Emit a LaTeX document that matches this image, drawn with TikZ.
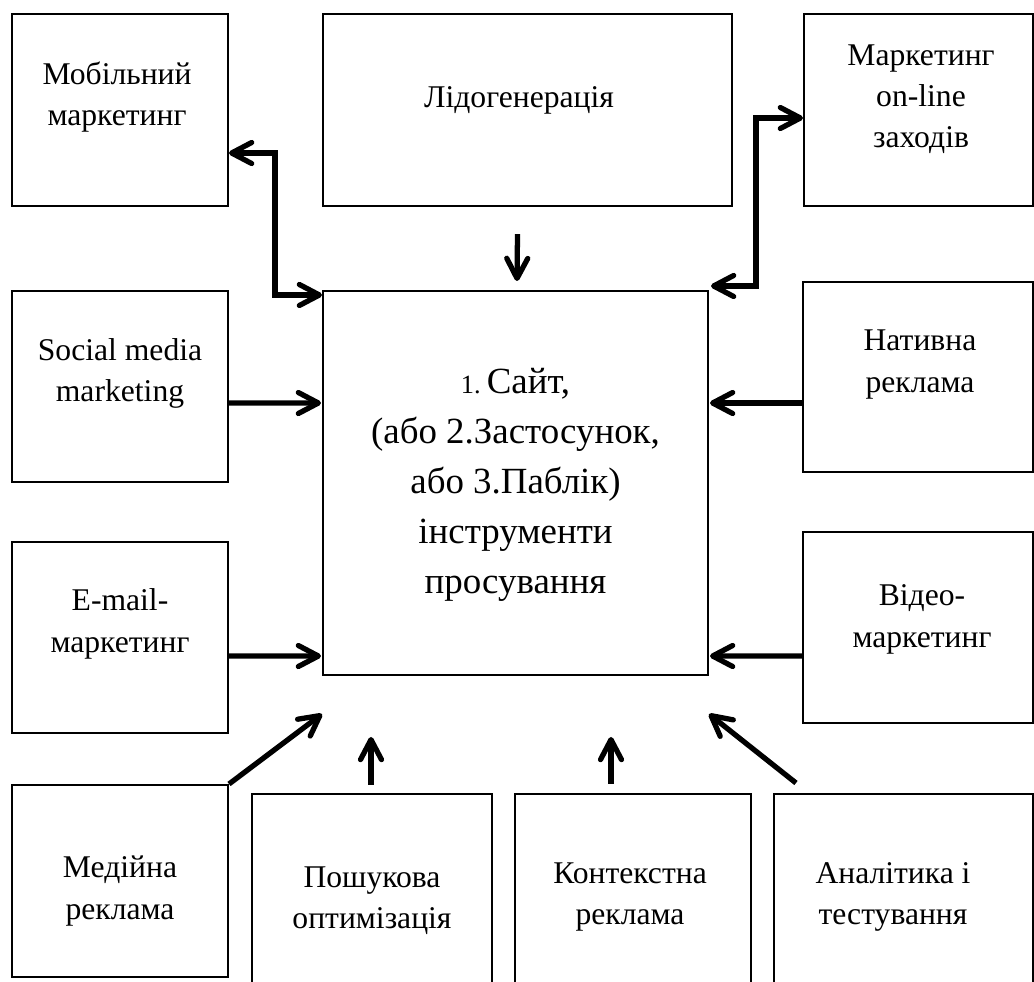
\documentclass[tikz,border=0pt]{standalone}
\usepackage{fontspec}
\setmainfont{Liberation Serif}
\usetikzlibrary{arrows.meta,calc}
\tikzset{
  promobox/.style={draw=black, line width=1.2pt, inner sep=0pt},
  promotext/.style={align=center, inner sep=0pt, font=\fontsize{18}{23.5}\selectfont},
  promoarrow/.style={line width=3pt, -{Straight Barb[length=4mm,width=4.2mm,round]}},
  promodouble/.style={line width=3pt,
    {Straight Barb[length=4mm,width=4.2mm,round]}-{Straight Barb[length=4mm,width=4.2mm,round]}}
}

\begin{document}
\begin{tikzpicture}[x=0.02cm,y=-0.02cm]
  \useasboundingbox (0,0) rectangle (1034,981);
  \clip (0,0) rectangle (1034,981);
  % boxes
  \node[promobox, minimum width=4.32cm, minimum height=3.84cm] (mob) at (120,110) {};
  \node[promobox, minimum width=8.18cm, minimum height=3.84cm] (lid) at (527.5,110) {};
  \node[promobox, minimum width=4.58cm, minimum height=3.84cm] (onl) at (918.5,110) {};
  \node[promobox, minimum width=4.32cm, minimum height=3.82cm] (soc) at (120,386.5) {};
  \node[promobox, minimum width=7.70cm, minimum height=7.68cm] (ctr) at (515.5,483) {};
  \node[promobox, minimum width=4.60cm, minimum height=3.80cm] (nat) at (918,377) {};
  \node[promobox, minimum width=4.32cm, minimum height=3.82cm] (eml) at (120,637.5) {};
  \node[promobox, minimum width=4.60cm, minimum height=3.82cm] (vid) at (918,627.5) {};
  \node[promobox, minimum width=4.32cm, minimum height=3.84cm] (med) at (120,881) {};
  \node[promobox, minimum width=4.80cm, minimum height=4.32cm] (pos) at (372,902) {};
  \node[promobox, minimum width=4.72cm, minimum height=4.32cm] (kon) at (633,902) {};
  \node[promobox, minimum width=5.18cm, minimum height=4.32cm] (ana) at (903.5,902) {};
  % texts
  \node[promotext] (mobtxt) at (117,97) {Мобільний\\маркетинг};
  \node[promotext] (lidtxt) at (519,100) {Лідогенерація};
  \node[promotext] (onltxt) at (921,99) {Маркетинг\\on-line\\заходів};
  \node[promotext] (soctxt) at (120,373.5) {Social media\\marketing};
  \node[promotext, font=\fontsize{21}{28.5}\selectfont] (ctrtxt) at (515.5,484.5)
    {{\fontsize{15}{28.5}\selectfont 1.}\,Сайт,\\(або 2.Застосунок,\\або 3.Паблік)\\інструменти\\просування};
  \node[promotext] (nattxt) at (920,364.5) {Нативна\\реклама};
  \node[promotext] (emltxt) at (120,624) {E-mail-\\маркетинг};
  \node[promotext] (vidtxt) at (922,619.5) {Відео-\\маркетинг};
  \node[promotext] (medtxt) at (120,891) {Медійна\\реклама};
  \node[promotext] (postxt) at (372,901) {Пошукова\\оптимізація};
  \node[promotext] (kontxt) at (630,897) {Контекстна\\реклама};
  \node[promotext] (anatxt) at (893,897) {Аналітика і\\тестування};
  % connectors
  \draw[promodouble] ($(mob.east)+(0,43)$) -| ($(ctr.north west)+(-47,5)$) -- ($(ctr.north west)+(0,5)$);
  \draw[promodouble] ($(ctr.north east)+(2,-4)$) -| ($(onl.west)+(-47,8)$) -- ($(onl.west)+(0,8)$);
  \draw[promoarrow] ($(lid.south)+(-10,27)$) -- ($(ctr.north)+(1.5,-9)$);
  \draw[promoarrow] ($(soc.east)+(0,16.5)$) -- ($(ctr.west)+(-1,-80)$);
  \draw[promoarrow] ($(eml.east)+(0,18.5)$) -- ($(ctr.west)+(-1,173)$);
  \draw[promoarrow] ($(nat.west)+(0,26)$) -- ($(ctr.east)+(1,-80)$);
  \draw[promoarrow] ($(vid.west)+(0,28.5)$) -- ($(ctr.east)+(1,173)$);
  \draw[promoarrow] (med.north east) -- ($(ctr.south west)+(0,38)$);
  \draw[promoarrow] ($(pos.north)+(-1,-8)$) -- ($(pos.north)+(-1,-56)$);
  \draw[promoarrow] ($(kon.north)+(-22,-9)$) -- ($(kon.north)+(-22,-56)$);
  \draw[promoarrow] ($(ana.north west)+(23,-10)$) -- ($(ctr.south east)+(0,38)$);
\end{tikzpicture}
\end{document}
